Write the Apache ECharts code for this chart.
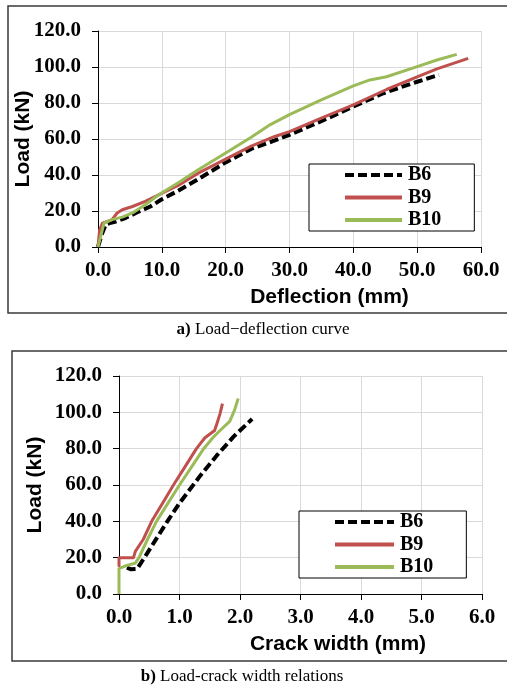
<!DOCTYPE html>
<html>
<head>
<meta charset="utf-8">
<script src="https://cdn.jsdelivr.net/npm/echarts@6/dist/echarts.min.js"></script>
<style>
  html, body { margin: 0; padding: 0; background: #fff; }
  #chart { width: 507px; height: 685px; }
</style>
</head>
<body>
<div id="chart"></div>
<script>
// Series names
const seriesNames = ['B6', 'B9', 'B10'];

// a) Load vs. mid-span deflection: [deflection (mm), load (kN)]
const deflB6 = [[0,0],[0.6,7],[1.2,12.5],[2.0,13.5],[2.8,14.2],[4.3,16.1],[6,19],[8.2,22.5],[10,26.5],[12.7,31.5],[15.7,37.7],[20,47],[24,54.5],[27.7,59.2],[30,62.3],[34.8,69.6],[40,78],[44.7,85.4],[47.3,88.6],[50,91.8],[53.4,95.6]];
const deflB9 = [[0,0],[0.26,9.6],[0.7,13.3],[2.2,15.2],[3.0,18.9],[3.8,20.7],[5.4,22.5],[7.4,25.3],[9.5,29],[12.7,34.5],[15.7,41],[20,48.8],[24,56],[27.7,61.4],[30,64.1],[34.8,71.3],[40,79],[45.2,87.5],[50,94.5],[53.1,99],[58,104.8]];
const deflB10 = [[0,0],[0.5,7],[0.94,13.3],[2.2,15.2],[3.8,16.6],[5.4,18.9],[7.4,23.5],[9.5,29],[12.7,36],[15.7,42.9],[20,52.2],[24,61],[27,68],[30,73.5],[34.8,81.5],[40,89.5],[42.6,92.8],[45.2,94.6],[50,100.2],[53.1,103.9],[56.2,107]];

// b) Load vs. maximum crack width: [crack width (mm), load (kN)]
const crackB6 = [[0.13,14.5],[0.2,13.6],[0.3,13.8],[0.4,19],[0.6,29.5],[0.8,40],[1.0,50],[1.17,57.5],[1.34,65],[1.61,76],[1.89,86.5],[2.2,96.3]];
const crackB9 = [[0,15],[0,20],[0.24,20],[0.27,23.5],[0.4,30],[0.54,40],[0.72,50],[0.9,60],[1.09,70],[1.28,80],[1.42,86],[1.52,88.5],[1.58,90],[1.63,95],[1.67,99.3],[1.71,104.8]];
const crackB10 = [[0,0],[0,14],[0.1,15.4],[0.27,17],[0.33,20],[0.47,30],[0.62,40],[0.81,50],[1.0,60],[1.2,70],[1.4,80],[1.55,86],[1.67,90],[1.83,95],[1.91,101.2],[1.97,107.6]];

// Axis ranges and tick steps
const deflTicks = { min: 0, max: 60, step: 10 };
const crackTicks = { min: 0, max: 6, step: 1 };
const loadTicks = { min: 0, max: 120, step: 20 };

const serif = 'Liberation Serif, "Times New Roman", serif';
const sans = 'Liberation Sans, Arial, sans-serif';

const styles = {
  B6: { color: '#000000', width: 4, type: [9, 4] },
  B9: { color: '#C0504D', width: 3, type: 'solid' },
  B10: { color: '#9BBB59', width: 3, type: 'solid' }
};

function fmt1(v) { return v.toFixed(1); }

function makeX(gridIndex, ticks, name, nameShift, nameGap) {
  return {
    gridIndex, type: 'value', min: ticks.min, max: ticks.max, interval: ticks.step,
    axisLine: { show: true, onZero: false, lineStyle: { color: '#000', width: 1 } },
    axisTick: { show: true, length: 6, lineStyle: { color: '#000', width: 1 } },
    splitLine: { show: true, lineStyle: { color: '#d9d9d9', width: 1 } },
    axisLabel: { formatter: fmt1, fontFamily: serif, fontWeight: 'bold', fontSize: 21, color: '#000', margin: 13 },
    name, nameLocation: 'middle', nameGap, nameMoveOverlap: false,
    nameTextStyle: { fontFamily: sans, fontWeight: 'bold', fontSize: 21, color: '#000', padding: [0, 0, 0, nameShift] }
  };
}

function makeY(gridIndex, nameGap) {
  return {
    gridIndex, type: 'value', min: loadTicks.min, max: loadTicks.max, interval: loadTicks.step,
    axisLine: { show: true, onZero: false, lineStyle: { color: '#000', width: 1 } },
    axisTick: { show: true, length: 6, lineStyle: { color: '#000', width: 1 } },
    splitLine: { show: true, lineStyle: { color: '#d9d9d9', width: 1 } },
    axisLabel: { formatter: fmt1, fontFamily: serif, fontWeight: 'bold', fontSize: 21, color: '#000', margin: 17 },
    name: 'Load (kN)', nameLocation: 'middle', nameGap, nameRotate: 90, nameMoveOverlap: false,
    nameTextStyle: { fontFamily: sans, fontWeight: 'bold', fontSize: 21, color: '#000' }
  };
}

function makeSeries(name, data, idx) {
  return {
    name, type: 'line', data, xAxisIndex: idx, yAxisIndex: idx,
    symbol: 'none', showSymbol: false, smooth: false, animation: false,
    lineStyle: { color: styles[name].color, width: styles[name].width, type: styles[name].type, cap: 'butt', join: 'round' },
    itemStyle: { color: styles[name].color }
  };
}

function makeLegend(left, top, pad, itemWidth) {
  return {
    orient: 'vertical', left, top, data: seriesNames,
    backgroundColor: '#fff', borderColor: '#000', borderWidth: 1,
    padding: pad, itemWidth, itemHeight: 12, itemGap: 2.5,
    selectedMode: false,
    itemStyle: { opacity: 0, color: 'rgba(0,0,0,0)', borderWidth: 0 },
    lineStyle: { width: 4 },
    textStyle: { fontFamily: serif, fontWeight: 'bold', fontSize: 20, lineHeight: 20, color: '#000', padding: [0, 0, 0, 1] }
  };
}

function caption(x, y, bold, rest) {
  return {
    type: 'text', x, y, silent: true,
    style: {
      text: '{b|' + bold + '} ' + rest,
      fontFamily: serif, fontSize: 17, fill: '#000',
      textAlign: 'center', textVerticalAlign: 'middle',
      rich: { b: { fontFamily: serif, fontWeight: 'bold', fontSize: 17 } }
    }
  };
}

const chart = echarts.init(document.getElementById('chart'), null, { renderer: 'canvas' });

chart.setOption({
  backgroundColor: '#fff',
  animation: false,
  grid: [
    { left: 98, top: 31, width: 383, height: 216 },
    { left: 119, top: 376, width: 363, height: 218 }
  ],
  xAxis: [
    makeX(0, deflTicks, 'Deflection (mm)', 80, 40),
    makeX(1, crackTicks, 'Crack width (mm)', 75, 39.5)
  ],
  yAxis: [makeY(0, 64), makeY(1, 73.5)],
  legend: [
    makeLegend(309, 164, [1, 33, 1, 34], 57),
    makeLegend(299, 511, [1, 33, 1, 34], 59)
  ],
  series: [
    makeSeries('B6', deflB6, 0),
    makeSeries('B9', deflB9, 0),
    makeSeries('B10', deflB10, 0),
    makeSeries('B6', crackB6, 1),
    makeSeries('B9', crackB9, 1),
    makeSeries('B10', crackB10, 1)
  ],
  graphic: [
    { type: 'rect', shape: { x: 8, y: 6, width: 520, height: 307 }, style: { fill: null, stroke: '#3a3a3a', lineWidth: 1.5 }, silent: true, z: -1 },
    { type: 'rect', shape: { x: 12, y: 351, width: 520, height: 310 }, style: { fill: null, stroke: '#3a3a3a', lineWidth: 1.5 }, silent: true, z: -1 },
    caption(263, 330, 'a)', 'Load\u2212deflection curve'),
    caption(242, 677, 'b)', 'Load-crack width relations')
  ]
});
</script>
</body>
</html>
